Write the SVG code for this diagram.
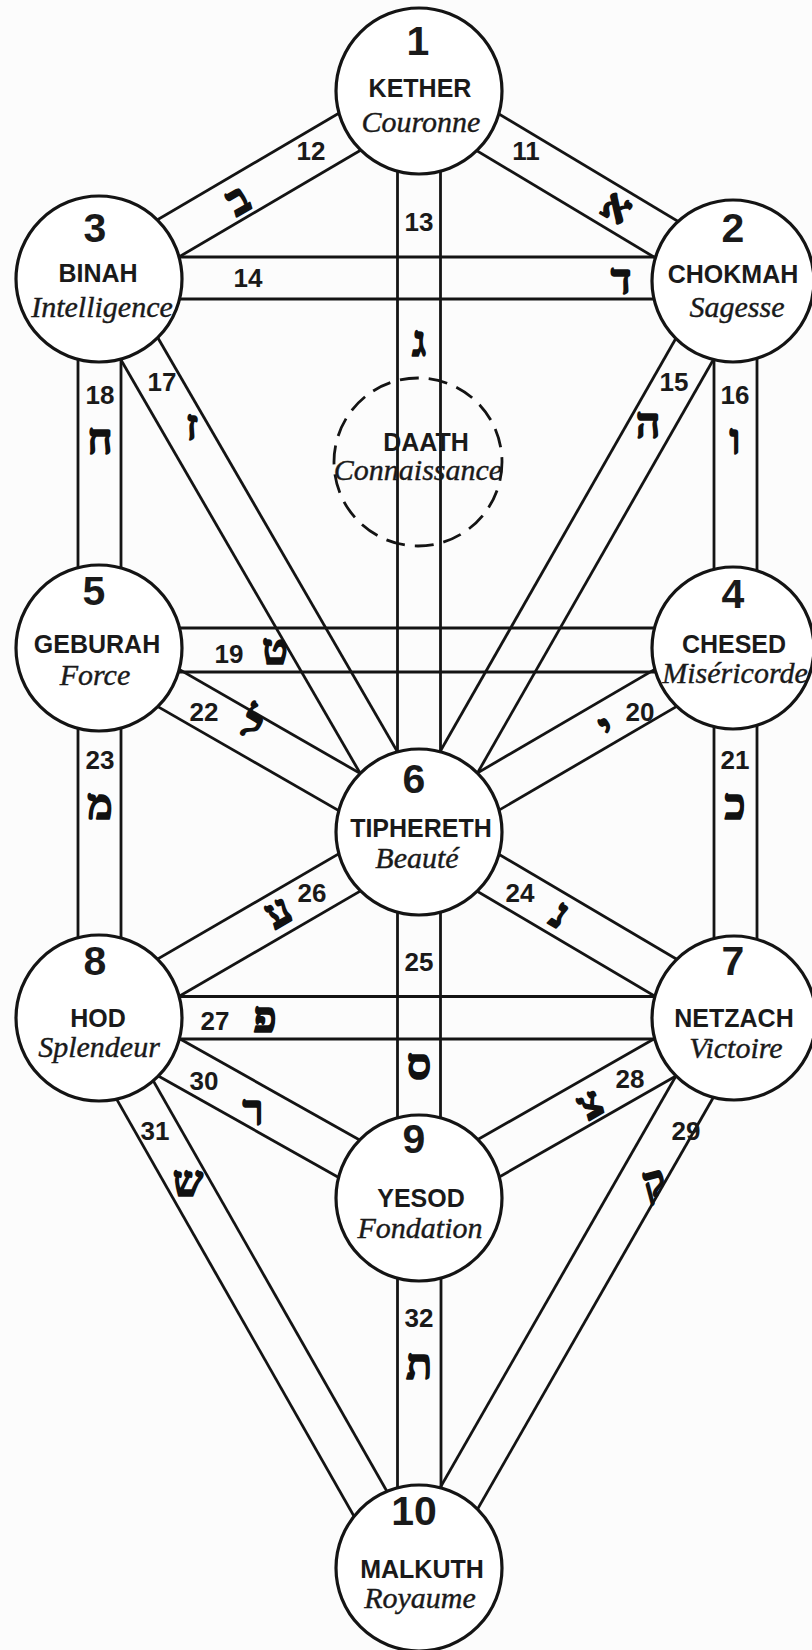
<svg xmlns="http://www.w3.org/2000/svg" width="812" height="1650" viewBox="0 0 812 1650">
<style>
.ln{stroke:#141414;stroke-width:2.8;fill:none}
.nd{fill:#ffffff;stroke:#141414;stroke-width:3.2}
.dt{fill:none;stroke:#141414;stroke-width:2.8;stroke-dasharray:19 10}
.num{font-family:"Liberation Sans",Arial,sans-serif;font-weight:bold;font-size:41px;fill:#1a1a1a;text-anchor:middle}
.nm{font-family:"Liberation Sans",Arial,sans-serif;font-weight:bold;font-size:25px;fill:#1a1a1a;text-anchor:middle}
.fr{font-family:"Liberation Serif","Times New Roman",serif;font-style:italic;font-size:30px;fill:#1a1a1a;stroke:#1a1a1a;stroke-width:0.4;text-anchor:middle}
.pn{font-family:"Liberation Sans",Arial,sans-serif;font-weight:bold;font-size:26px;fill:#1a1a1a;text-anchor:middle}
.hb{font-family:"Liberation Serif","DejaVu Serif","DejaVu Sans",serif;font-weight:bold;font-size:43px;fill:#111;stroke:#111;stroke-width:1.6;stroke-linejoin:round;text-anchor:middle}
</style>
<rect x="0" y="0" width="812" height="1650" fill="#fcfcfc"/>
<g id="connectors">
<g id="p11"><line class="ln" x1="407.9" y1="109.4" x2="722.9" y2="298.4"/><line class="ln" x1="430.1" y1="72.6" x2="745.1" y2="261.6"/></g>
<g id="p12"><line class="ln" x1="408.1" y1="72.5" x2="88.1" y2="260.5"/><line class="ln" x1="429.9" y1="109.5" x2="109.9" y2="297.5"/></g>
<g id="p13"><line class="ln" x1="397.5" y1="91" x2="397.5" y2="832"/><line class="ln" x1="440.5" y1="91" x2="440.5" y2="832"/></g>
<g id="p14"><line class="ln" x1="99" y1="257" x2="734" y2="257"/><line class="ln" x1="99" y1="299" x2="734" y2="299"/></g>
<g id="p15"><line class="ln" x1="715.3" y1="269.3" x2="400.3" y2="821.3"/><line class="ln" x1="752.7" y1="290.7" x2="437.7" y2="842.7"/></g>
<g id="p16"><line class="ln" x1="714" y1="280" x2="714" y2="648"/><line class="ln" x1="757" y1="280" x2="757" y2="648"/></g>
<g id="p17"><line class="ln" x1="80.4" y1="289.8" x2="400.4" y2="842.8"/><line class="ln" x1="117.6" y1="268.2" x2="437.6" y2="821.2"/></g>
<g id="p18"><line class="ln" x1="78" y1="279" x2="78" y2="648"/><line class="ln" x1="121" y1="279" x2="121" y2="648"/></g>
<g id="p19"><line class="ln" x1="99" y1="628" x2="734" y2="628"/><line class="ln" x1="99" y1="672" x2="734" y2="672"/></g>
<g id="p20"><line class="ln" x1="723.2" y1="629.4" x2="408.2" y2="813.4"/><line class="ln" x1="744.8" y1="666.6" x2="429.8" y2="850.6"/></g>
<g id="p21"><line class="ln" x1="714" y1="648" x2="714" y2="1018"/><line class="ln" x1="757" y1="648" x2="757" y2="1018"/></g>
<g id="p22"><line class="ln" x1="88.3" y1="666.6" x2="408.3" y2="850.6"/><line class="ln" x1="109.7" y1="629.4" x2="429.7" y2="813.4"/></g>
<g id="p23"><line class="ln" x1="78" y1="648" x2="78" y2="1018"/><line class="ln" x1="121" y1="648" x2="121" y2="1018"/></g>
<g id="p24"><line class="ln" x1="408.1" y1="850.5" x2="723.1" y2="1036.5"/><line class="ln" x1="429.9" y1="813.5" x2="744.9" y2="999.5"/></g>
<g id="p25"><line class="ln" x1="397.5" y1="832" x2="397.5" y2="1198"/><line class="ln" x1="440.5" y1="832" x2="440.5" y2="1198"/></g>
<g id="p26"><line class="ln" x1="408.2" y1="813.4" x2="88.2" y2="999.4"/><line class="ln" x1="429.8" y1="850.6" x2="109.8" y2="1036.6"/></g>
<g id="p27"><line class="ln" x1="99" y1="996.5" x2="734" y2="996.5"/><line class="ln" x1="99" y1="1039" x2="734" y2="1039"/></g>
<g id="p28"><line class="ln" x1="723.3" y1="999.3" x2="408.3" y2="1179.3"/><line class="ln" x1="744.7" y1="1036.7" x2="429.7" y2="1216.7"/></g>
<g id="p29"><line class="ln" x1="715.3" y1="1007.3" x2="400.3" y2="1557.3"/><line class="ln" x1="752.7" y1="1028.7" x2="437.7" y2="1578.7"/></g>
<g id="p30"><line class="ln" x1="88.5" y1="1036.7" x2="408.5" y2="1216.7"/><line class="ln" x1="109.5" y1="999.3" x2="429.5" y2="1179.3"/></g>
<g id="p31"><line class="ln" x1="76.2" y1="1028.1" x2="389.2" y2="1578.1"/><line class="ln" x1="111.8" y1="1007.9" x2="424.8" y2="1557.9"/></g>
<g id="p32"><line class="ln" x1="397.5" y1="1198" x2="397.5" y2="1568"/><line class="ln" x1="441" y1="1198" x2="441" y2="1568"/></g>
</g>
<g id="kether"><circle class="nd" cx="419" cy="91" r="83"/><text class="num" x="418" y="55">1</text><text class="nm" x="420" y="97">KETHER</text><text class="fr" x="421" y="132">Couronne</text></g>
<g id="chokmah"><circle class="nd" cx="733" cy="281" r="81"/><text class="num" x="733" y="242">2</text><text class="nm" x="733" y="283">CHOKMAH</text><text class="fr" x="737" y="317">Sagesse</text></g>
<g id="binah"><circle class="nd" cx="99" cy="279" r="83"/><text class="num" x="95" y="242">3</text><text class="nm" x="98" y="282">BINAH</text><text class="fr" x="102" y="317">Intelligence</text></g>
<g id="chesed"><circle class="nd" cx="733" cy="648" r="81"/><text class="num" x="733" y="608">4</text><text class="nm" x="734" y="653">CHESED</text><text class="fr" x="735" y="683">Miséricorde</text></g>
<g id="geburah"><circle class="nd" cx="99" cy="648" r="83"/><text class="num" x="94" y="605">5</text><text class="nm" x="97" y="653">GEBURAH</text><text class="fr" x="95" y="685">Force</text></g>
<g id="tiphereth"><circle class="nd" cx="419" cy="832" r="83"/><text class="num" x="414" y="793">6</text><text class="nm" x="421" y="837">TIPHERETH</text><text class="fr" x="417" y="868">Beauté</text></g>
<g id="netzach"><circle class="nd" cx="734" cy="1018" r="82"/><text class="num" x="733" y="975">7</text><text class="nm" x="734" y="1027">NETZACH</text><text class="fr" x="736" y="1058">Victoire</text></g>
<g id="hod"><circle class="nd" cx="99" cy="1018" r="83"/><text class="num" x="95" y="975">8</text><text class="nm" x="98" y="1027">HOD</text><text class="fr" x="99" y="1057">Splendeur</text></g>
<g id="yesod"><circle class="nd" cx="419" cy="1198" r="83"/><text class="num" x="414" y="1153">9</text><text class="nm" x="421" y="1207">YESOD</text><text class="fr" x="420" y="1238">Fondation</text></g>
<g id="malkuth"><circle class="nd" cx="419" cy="1568" r="83"/><text class="num" x="414" y="1525">10</text><text class="nm" x="422" y="1578">MALKUTH</text><text class="fr" x="420" y="1608">Royaume</text></g>
<g id="daath"><circle class="dt" cx="418" cy="462" r="84"/><text class="nm" x="426" y="451">DAATH</text><text class="fr" x="418" y="480">Connaissance</text></g>
<g id="path-labels">
<text class="pn" x="526" y="160">11</text>
<text class="pn" x="311" y="160">12</text>
<text class="hb" transform="translate(238,200) rotate(-30)" x="0" y="14">ב</text>
<text class="hb" transform="translate(617,207) rotate(30)" x="0" y="14">א</text>
<text class="pn" x="419" y="231">13</text>
<text class="hb" x="419" y="356">ג</text>
<text class="pn" x="248" y="287">14</text>
<text class="hb" x="621" y="294">ד</text>
<text class="pn" x="162" y="391">17</text>
<text class="pn" x="100" y="404">18</text>
<text class="hb" x="100" y="454">ח</text>
<text class="hb" x="192" y="440">ז</text>
<text class="pn" x="674" y="391">15</text>
<text class="pn" x="735" y="404">16</text>
<text class="hb" x="648" y="438">ה</text>
<text class="hb" x="735" y="454">ו</text>
<text class="pn" x="229" y="663">19</text>
<text class="hb" x="275" y="664">ט</text>
<text class="pn" x="204" y="721">22</text>
<text class="hb" transform="translate(252,724) rotate(30)" x="0" y="14">ל</text>
<text class="pn" x="640" y="721">20</text>
<text class="hb" transform="translate(607,728) rotate(-30)" x="0" y="14">י</text>
<text class="pn" x="100" y="769">23</text>
<text class="hb" x="100" y="819">מ</text>
<text class="pn" x="735" y="769">21</text>
<text class="hb" x="735" y="819">כ</text>
<text class="pn" x="312" y="902">26</text>
<text class="hb" transform="translate(278,912) rotate(-30)" x="0" y="14">ע</text>
<text class="pn" x="520" y="902">24</text>
<text class="hb" transform="translate(560,914) rotate(30)" x="0" y="14">נ</text>
<text class="pn" x="419" y="971">25</text>
<text class="pn" x="215" y="1030">27</text>
<text class="hb" x="265" y="1032">פ</text>
<text class="hb" x="419" y="1079">ס</text>
<text class="pn" x="204" y="1090">30</text>
<text class="hb" x="253" y="1125">ר</text>
<text class="pn" x="630" y="1088">28</text>
<text class="hb" transform="translate(590,1104) rotate(-30)" x="0" y="14">צ</text>
<text class="pn" x="155" y="1140">31</text>
<text class="hb" x="188" y="1196">ש</text>
<text class="pn" x="686" y="1140">29</text>
<text class="hb" transform="translate(654,1182) rotate(-15)" x="0" y="14">ק</text>
<text class="pn" x="419" y="1327">32</text>
<text class="hb" x="419" y="1379">ת</text>
</g>
</svg>
